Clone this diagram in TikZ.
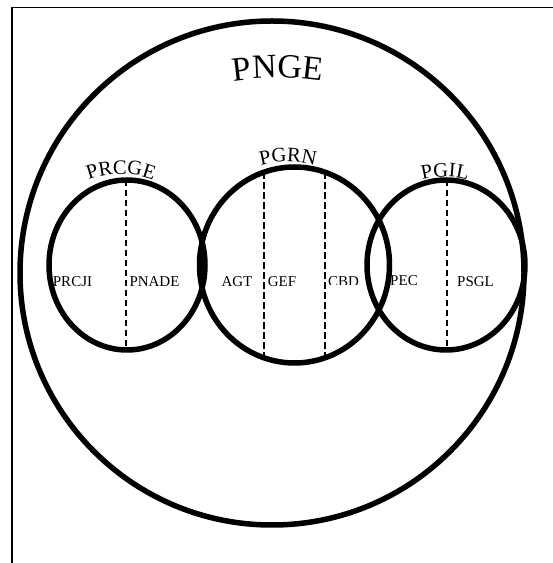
\documentclass[tikz,border=0pt]{standalone}
\usepackage{fontspec}
\setmainfont{Liberation Serif}
\usetikzlibrary{decorations.text}
\newcommand\partfnt{\fontsize{15}{17}\selectfont}
\newcommand\arcfnt{\fontsize{20.5}{24}\selectfont}
\newcommand\pngefnt{\fontsize{34}{40}\selectfont}
\begin{document}
\begin{tikzpicture}[x=1pt,y=1pt,
  ring/.style={draw=black, line width=5.5pt},
  divider/.style={draw=black, line width=1.8pt, dash pattern=on 6.5pt off 3.5pt},
  part/.style={anchor=base, inner sep=0pt, font=\partfnt},
  arclabel/.style={decorate, decoration={text along path, text align=center, text={#1}}},
  frameline/.style={draw=black, line width=1.8pt}
]
\useasboundingbox (0,0) rectangle (553,563);
% frame
\coordinate (fTR) at (553,555.5);
\coordinate (fTL) at (12,555.5);
\coordinate (fBL) at (12,0);
\draw[frameline] (fTR) -- (fTL) -- (fBL);
% outer circle
\coordinate (cBig) at (272,290);
\draw[ring] (cBig) circle[radius=252];
% inner circles
\coordinate (cL) at (127,298);
\draw[ring] (cL) ellipse[x radius=78, y radius=85];
\coordinate (cM) at (294.5,298);
\draw[ring] (cM) ellipse[x radius=95, y radius=98];
\coordinate (cR) at (446,298);
\draw[ring] (cR) ellipse[x radius=79, y radius=85];
% dividers
\coordinate (dLt) at (126,383);
\coordinate (dLb) at (126,213);
\draw[divider] (dLt) -- (dLb);
\coordinate (dM1t) at (264,390.8);
\coordinate (dM1b) at (264,205.2);
\draw[divider] (dM1t) -- (dM1b);
\coordinate (dM2t) at (325,390.8);
\coordinate (dM2b) at (325,205.2);
\draw[divider] (dM2t) -- (dM2b);
\coordinate (dRt) at (447,383);
\coordinate (dRb) at (447,213);
\draw[divider] (dRt) -- (dRb);
% arc labels
\path[arclabel={|\pngefnt|PNGE}] (278,185) ++(112:300) arc[start angle=112, end angle=68, radius=300];
\path[arclabel={|\arcfnt|PRCGE}] (121,298) ++(150:91) arc[start angle=150, end angle=30, radius=91];
\path[arclabel={|\arcfnt|PGRN}] (288,300) ++(150:101) arc[start angle=150, end angle=30, radius=101];
\path[arclabel={|\arcfnt|PGIL}] (445,298) ++(150:88) arc[start angle=150, end angle=30, radius=88];
% part labels
\node[part] (prcji) at (72.5,276) {PRCJI};
\node[part] (pnade) at (154.5,276) {PNADE};
\node[part] (agt) at (237,276.5) {AGT};
\node[part] (gef) at (282,276) {GEF};
\begin{scope}
  \clip (320,278) rectangle (370,300);
  \node[part] (cbd) at (343.5,276) {CBD};
\end{scope}
\node[part] (pec) at (404,277) {PEC};
\node[part] (psgl) at (475.5,276) {PSGL};
\end{tikzpicture}
\end{document}
